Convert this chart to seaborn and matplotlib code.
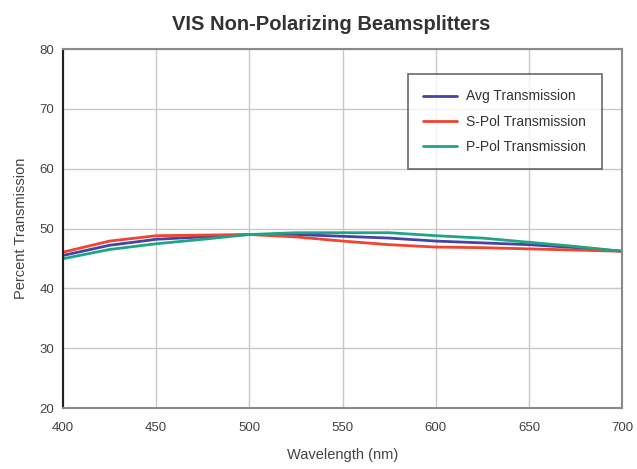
import matplotlib
matplotlib.use('Agg')
import pandas as pd
import seaborn as sns
import matplotlib.pyplot as plt

# data
wavelength = [400, 425, 450, 475, 500, 525, 550, 575, 600, 625, 650, 675, 700]
avg_trans = [45.5, 47.2, 48.2, 48.6, 49.0, 49.0, 48.7, 48.4, 47.9, 47.6, 47.3, 46.8, 46.2]
s_pol = [46.05, 47.9, 48.8, 48.9, 49.0, 48.6, 47.9, 47.3, 46.9, 46.8, 46.6, 46.4, 46.2]
p_pol = [44.95, 46.5, 47.45, 48.2, 49.0, 49.3, 49.3, 49.3, 48.8, 48.4, 47.7, 47.0, 46.2]

series_names = ['Avg Transmission', 'S-Pol Transmission', 'P-Pol Transmission']
colors = ['#4343a8', '#f2432f', '#1fa583']

df = pd.DataFrame({
    'Wavelength': wavelength * 3,
    'Transmission': avg_trans + s_pol + p_pol,
    'Series': [n for n in series_names for _ in wavelength],
})

sns.set_style('white')
plt.rcParams['font.family'] = ['Liberation Sans', 'DejaVu Sans']

fig = plt.figure(figsize=(6.37, 4.69), dpi=100)
ax = fig.add_axes([0.0989, 0.130, 0.878, 0.7655])

sns.lineplot(data=df, x='Wavelength', y='Transmission', hue='Series',
             palette=colors, linewidth=2.0, ax=ax)

ax.set_xlim(400, 700)
ax.set_ylim(20, 80)
ax.set_xticks(range(400, 701, 50))
ax.set_yticks(range(20, 81, 10))
ax.grid(True, color='#c8c8c8', linewidth=1.0)
ax.set_axisbelow(True)

for side in ['top', 'right', 'bottom']:
    ax.spines[side].set_color('#8a8a8a')
    ax.spines[side].set_linewidth(1.5)
ax.spines['left'].set_color('#222222')
ax.spines['left'].set_linewidth(1.5)

ax.tick_params(axis='both', labelsize=9.5, colors='#444444', length=3, width=0.8)
ax.tick_params(axis='x', pad=7)
ax.set_xlabel('Wavelength (nm)', fontsize=10.5, color='#444444', labelpad=10)
ax.set_ylabel('Percent Transmission', fontsize=10.5, color='#444444', labelpad=8)
fig.suptitle('VIS Non-Polarizing Beamsplitters', x=0.52, y=0.968,
             fontsize=14.5, fontweight='bold', color='#333333')

# legend box placed like the reference (upper right, inside the grid)
leg = ax.legend(loc='upper left', bbox_to_anchor=(0.617, 0.93), frameon=True,
                fancybox=False, edgecolor='#444444',
                handlelength=2.4, borderpad=1.1, labelspacing=0.8,
                handletextpad=0.7, borderaxespad=0, prop={'size': 10})
leg.get_frame().set_linewidth(1.2)
for t in leg.get_texts():
    t.set_color('#333333')

fig.savefig('out.png', dpi=100)
